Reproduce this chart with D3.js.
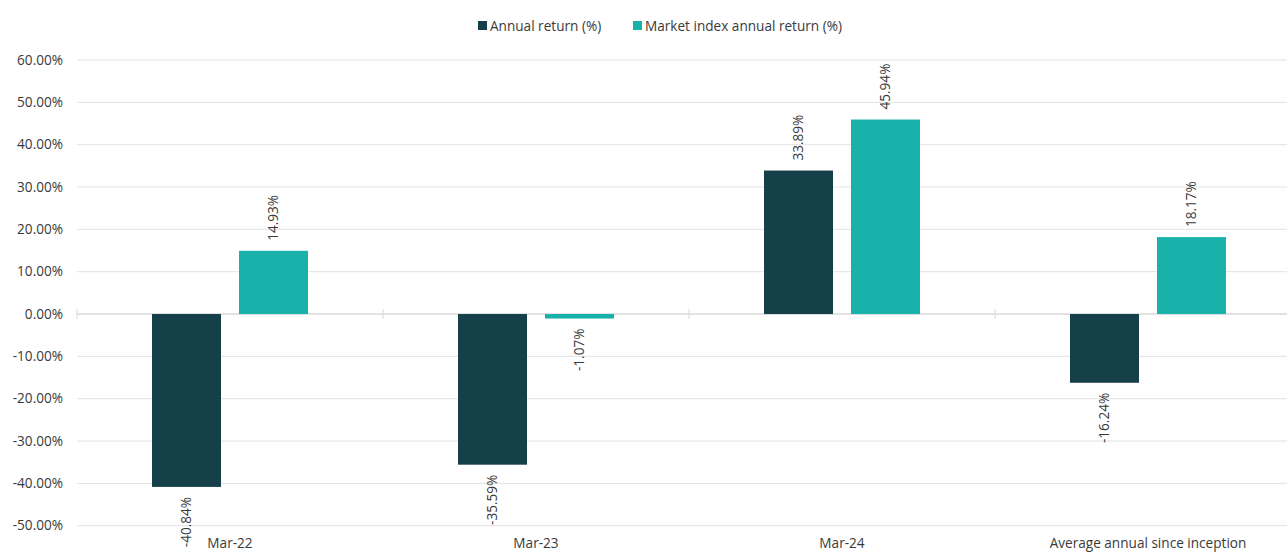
<!DOCTYPE html>
<html>
<head>
<meta charset="utf-8">
<script src="https://cdn.jsdelivr.net/npm/d3@7"></script>
<style>
	body { margin: 0; background: #fff; }
	text { font-family: 'Open Sans', 'Noto Sans', sans-serif; fill: #3a3a3a; }
</style>
</head>
<body>
<svg id="chart"></svg>
<script>
'use strict';
//Chart data.
const categories = ['Mar-22', 'Mar-23', 'Mar-24', 'Average annual since inception'];
const seriesNames = ['Annual return (%)', 'Market index annual return (%)'];
const annualReturn = [-40.84, -35.59, 33.89, -16.24];
const indexReturn = [14.93, -1.07, 45.94, 18.17];
const yTicks = [60, 50, 40, 30, 20, 10, 0, -10, -20, -30, -40, -50];
const colors = ['#153f49', '#19b2ab'];

const W = 1287, H = 552;
const svg = d3.select('#chart').attr('width', W).attr('height', H);

//Scales.
const x = d3.scaleBand().domain(categories).range([77, 1301]);
const y = d3.scaleLinear().domain([-50, 60]).range([525.7, 60]);
const fmt = v => v.toFixed(2) + '%';
const fs = '13.6px';

//Gridlines.
svg.append('g')
	.selectAll('line')
	.data(yTicks)
	.join('line')
	.attr('x1', 77)
	.attr('x2', W)
	.attr('y1', d => y(d))
	.attr('y2', d => y(d))
	.style('stroke', '#e2e2e2')
	.style('stroke-width', d => d === 0 ? 2 : 1);

//Y tick labels.
svg.append('g')
	.selectAll('text')
	.data(yTicks)
	.join('text')
	.attr('x', 63)
	.attr('y', d => y(d))
	.attr('dy', '0.35em')
	.attr('text-anchor', 'end')
	.style('font-size', fs)
	.text(fmt);

//Category boundary ticks on the zero line.
svg.append('g')
	.selectAll('line')
	.data(categories)
	.join('line')
	.attr('x1', d => x(d))
	.attr('x2', d => x(d))
	.attr('y1', y(0) - 5)
	.attr('y2', y(0) + 5)
	.style('stroke', '#d8d8d8')
	.style('stroke-width', 1);

//Bars.
const series = [annualReturn, indexReturn];
const bw = 69, gap = 9;
series.forEach((vals, s) => {
	const off = s === 0 ? -gap - bw : gap;
	const g = svg.append('g');
	g.selectAll('rect')
		.data(vals)
		.join('rect')
		.attr('x', (d, i) => x(categories[i]) + x.bandwidth() / 2 + off)
		.attr('width', bw)
		.attr('y', d => Math.min(y(d), y(0)))
		.attr('height', d => Math.abs(y(d) - y(0)))
		.style('fill', colors[s]);
	//Rotated value labels.
	g.selectAll('text')
		.data(vals)
		.join('text')
		.attr('transform', (d, i) => {
			const cx = x(categories[i]) + x.bandwidth() / 2 + off + bw / 2;
			const cy = d >= 0 ? y(d) - 10 : y(d) + 10;
			return `translate(${cx},${cy}) rotate(-90)`;
		})
		.attr('dy', '0.35em')
		.attr('text-anchor', d => d >= 0 ? 'start' : 'end')
		.style('font-size', fs)
		.text(fmt);
});

//X labels.
svg.append('g')
	.selectAll('text')
	.data(categories)
	.join('text')
	.attr('x', d => x(d) + x.bandwidth() / 2)
	.attr('y', 548)
	.attr('text-anchor', 'middle')
	.style('font-size', fs)
	.text(d => d);

//Legend.
const legendX = [478, 633];
const leg = svg.append('g');
seriesNames.forEach((name, i) => {
	leg.append('rect')
		.attr('x', legendX[i])
		.attr('y', 21)
		.attr('width', 9)
		.attr('height', 9)
		.style('fill', colors[i]);
	leg.append('text')
		.attr('x', legendX[i] + 12)
		.attr('y', 26)
		.attr('dy', '0.35em')
		.style('font-size', fs)
		.text(name);
});
</script>
</body>
</html>
